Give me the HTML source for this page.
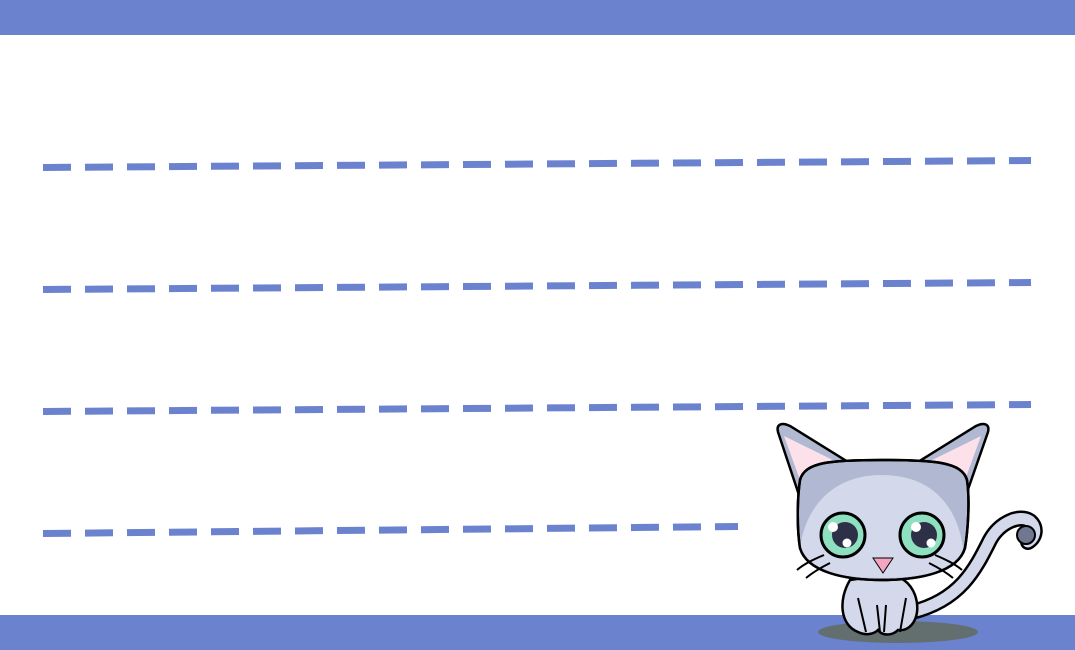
<!DOCTYPE html>
<html><head><meta charset="utf-8"><style>html,body{margin:0;padding:0;background:#fff}svg{display:block}</style></head>
<body>
<svg width="1075" height="650" viewBox="0 0 1075 650" xmlns="http://www.w3.org/2000/svg">
<rect x="0" y="0" width="1075" height="35" fill="#6b82cf"/>
<rect x="0" y="615" width="1075" height="35" fill="#6b82cf"/>
<g stroke="#6b82cf" stroke-width="7" stroke-dasharray="28 14" fill="none">
<line x1="43" y1="167.5" x2="1031" y2="160.5"/>
<line x1="43" y1="289.5" x2="1031" y2="282.5"/>
<line x1="43" y1="411.5" x2="1031" y2="404.5"/>
<line x1="43" y1="533.5" x2="738" y2="526.5"/>
</g>
<ellipse cx="898" cy="632" rx="80" ry="11" fill="#636f6f"/>
<path d="M912,612 C960,600 975,570 990,540 C1000,522 1020,514 1030,521 C1038,528 1035,538 1028,542" fill="none" stroke="#000" stroke-width="16" stroke-linecap="round"/>
<path d="M912,612 C960,600 975,570 990,540 C1000,522 1020,514 1030,521 C1038,528 1035,538 1028,542" fill="none" stroke="#d3d9ea" stroke-width="11" stroke-linecap="round"/>
<circle cx="1026" cy="535" r="9" fill="#6f7890" stroke="#000" stroke-width="2"/>
<path d="M850,580 C838,600 840,625 858,632 C866,636 874,634 878,630 C882,636 892,636 898,630 C912,632 922,615 915,595 C910,582 900,575 885,575 Z" fill="#d3d9ea" stroke="#000" stroke-width="2.5"/>
<path d="M858,598 L866,632 M877,605 L880,632 M886,605 L884,632 M906,598 L900,632" stroke="#000" stroke-width="2" fill="none"/>
<path d="M800,498 L778,432 C776,424 782,422 790,426 L848,462 Z" fill="#b0b9d1" stroke="#000" stroke-width="2.5"/>
<path d="M800,480 L784,436 L845,466 Z" fill="#fce0ea"/>
<path d="M965,498 L988,432 C990,424 984,422 976,426 L918,462 Z" fill="#b0b9d1" stroke="#000" stroke-width="2.5"/>
<path d="M965,480 L981,436 L920,466 Z" fill="#fce0ea"/>
<path d="M800,480 C805,462 830,460 882,460 C935,460 962,462 967,480 C970,500 968,530 965,548 C958,572 920,580 882,580 C845,580 807,572 800,548 C797,530 797,500 800,480 Z" fill="#b0b9d1" stroke="#000" stroke-width="2.5"/>
<path d="M800,548 C805,510 830,475 882,475 C935,475 958,510 963,548 C958,572 920,578 882,578 C845,578 806,572 800,548 Z" fill="#d3d9ea"/>
<path d="M800,480 C805,462 830,460 882,460 C935,460 962,462 967,480 C970,500 968,530 965,548 C958,572 920,580 882,580 C845,580 807,572 800,548 C797,530 797,500 800,480 Z" fill="none" stroke="#000" stroke-width="2.5"/>
<g stroke="#000" stroke-width="3">
<circle cx="843" cy="535" r="22" fill="#8ee0c0"/>
<circle cx="922" cy="535" r="22" fill="#8ee0c0"/>
</g>
<circle cx="845" cy="535" r="13" fill="#2e3048"/>
<circle cx="924" cy="535" r="13" fill="#2e3048"/>
<circle cx="833" cy="527" r="5" fill="#fff"/>
<circle cx="847" cy="543" r="4.5" fill="#fff"/>
<circle cx="916" cy="527" r="5" fill="#fff"/>
<circle cx="931" cy="543" r="4.5" fill="#fff"/>
<path d="M873,558 L893,558 L883,573 Z" fill="#f4a6c0" stroke="#000" stroke-width="1"/>
<g stroke="#000" stroke-width="2" fill="none">
<path d="M824,555 C812,560 804,564 797,570"/>
<path d="M830,563 C820,568 812,573 806,578"/>
<path d="M935,555 C947,560 955,564 962,570"/>
<path d="M929,563 C939,568 947,573 953,578"/>
</g>
</svg>
</body></html>
